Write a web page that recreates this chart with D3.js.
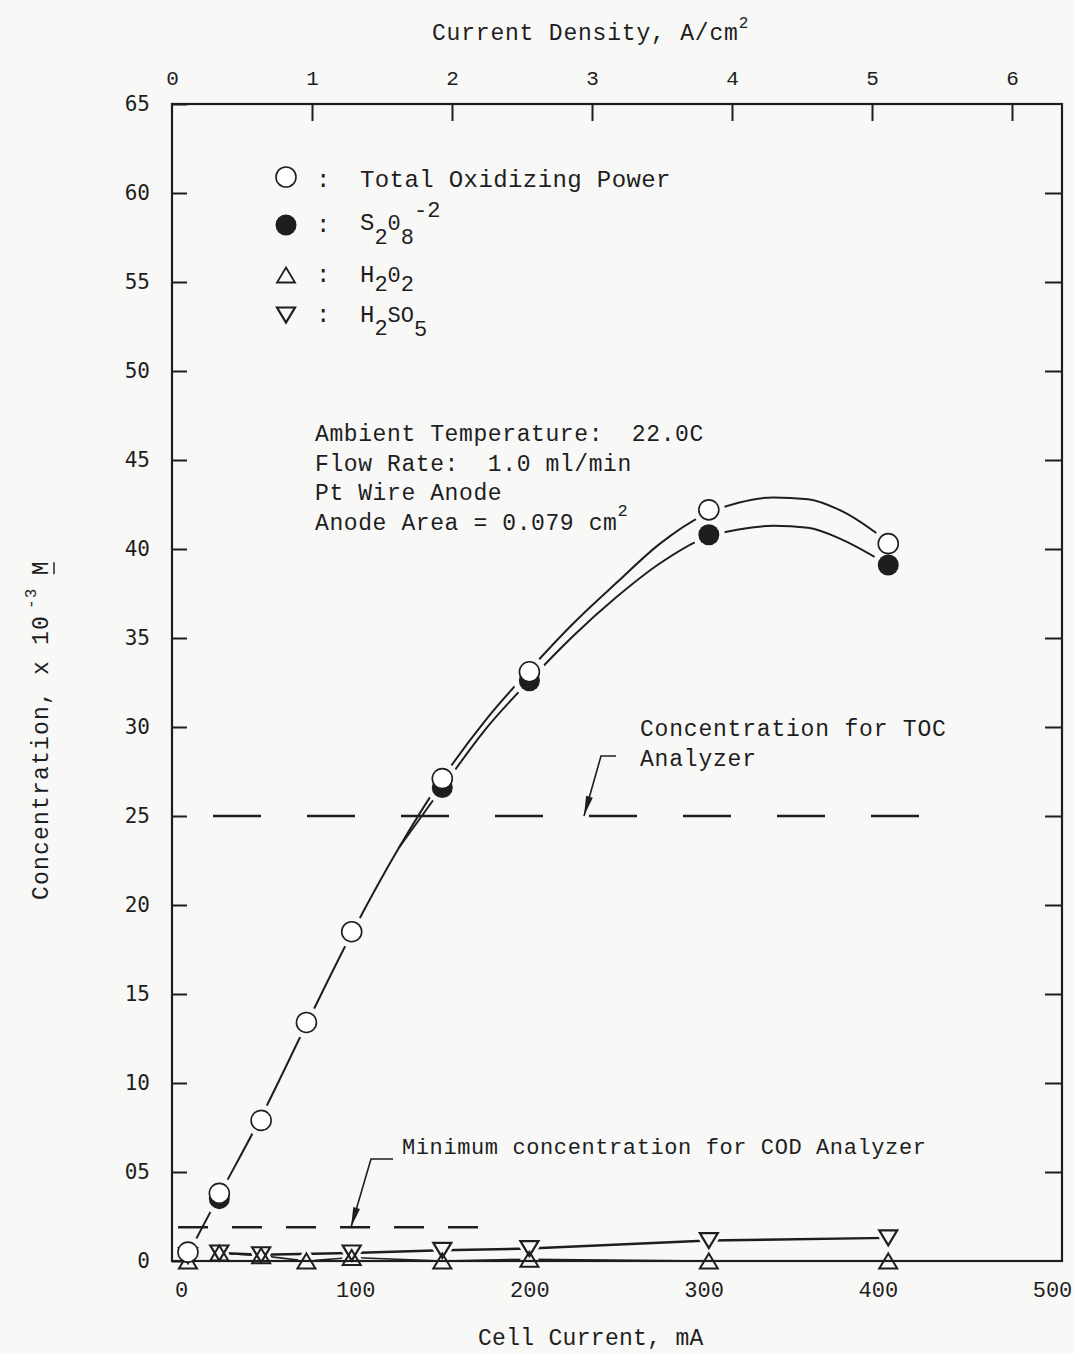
<!DOCTYPE html>
<html>
<head>
<meta charset="utf-8">
<script src="https://cdn.jsdelivr.net/npm/d3@7"></script>
<style>
  html, body { margin: 0; padding: 0; background: #f8f8f6; }
  svg { display: block; }
  text { font-family: "Liberation Mono", "DejaVu Sans Mono", monospace; fill: #1e1e1e; white-space: pre; }
</style>
</head>
<body>
<svg id="chart" width="1074" height="1354"></svg>
<script>
// ---- measured points (cell current in mA, concentration x 10^-3 M) ----
const currents       = [4, 22, 46, 72, 98, 150, 200, 303, 406];
const totalOxidizing = [0.5, 3.8, 7.9, 13.4, 18.5, 27.1, 33.1, 42.2, 40.3];
const persulfateCurrents = [22, 150, 200, 303, 406];
const persulfate         = [3.5, 26.6, 32.6, 40.8, 39.1];
const peroxide  = [0.0, 0.45, 0.3, 0.0, 0.2, 0.0, 0.1, 0.0, 0.0];
const caroAcid  = [0.3, 0.45, 0.35, null, 0.45, 0.6, 0.7, 1.15, 1.3];

// ---- hand-fitted curves drawn through the measured points ----
const totalFitCurrents = [2, 22, 46, 72, 98, 125, 150, 175, 200, 225, 250, 275, 300, 320, 340, 360, 380, 406];
const totalFit         = [0, 3.7, 8.1, 13.3, 18.4, 23.2, 27.1, 30.4, 33.2, 35.8, 38.1, 40.3, 41.9, 42.6, 42.9, 42.8, 42.1, 40.4];
const persulfateFitCurrents = [125, 150, 175, 200, 225, 250, 275, 300, 320, 340, 360, 380, 406];
const persulfateFit         = [23.2, 26.6, 29.9, 32.6, 35.1, 37.3, 39.2, 40.6, 41.1, 41.3, 41.2, 40.5, 39.1];

// ---- reference levels ----
const tocLevel = 25;
const tocSpan = [0, 440];
const codLevel = 1.9;
const codSpan = [-4, 170];

// ---- axis ticks ----
const concentrationTicks = [0, 5, 10, 15, 20, 25, 30, 35, 40, 45, 50, 55, 60, 65];
const currentTicks = [0, 100, 200, 300, 400, 500];
const densityTicks = [0, 1, 2, 3, 4, 5, 6];

const svg = d3.select("#chart");
const frame = { left: 172, right: 1062, top: 104, bottom: 1261 };

const x = d3.scaleLinear().domain([0, 500]).range([181, 1052]);
const y = d3.scaleLinear().domain([0, 65]).range([1261, 104]);
const xTop = d3.scaleLinear().domain([0, 6]).range([172, 1012]);

const ink = "#1e1e1e";

// reference dashed lines
svg.append("line")
  .attr("x1", x(tocSpan[0])).attr("x2", x(tocSpan[1]) + 3)
  .attr("y1", y(tocLevel)).attr("y2", y(tocLevel))
  .attr("stroke", ink).attr("stroke-width", 2.4)
  .attr("stroke-dasharray", "48,46").attr("stroke-dashoffset", -32);
svg.append("line")
  .attr("x1", x(codSpan[0])).attr("x2", x(codSpan[1]) + 3)
  .attr("y1", y(codLevel)).attr("y2", y(codLevel))
  .attr("stroke", ink).attr("stroke-width", 2.4)
  .attr("stroke-dasharray", "30,24").attr("stroke-dashoffset", -4);

// fitted curves
const curveLine = d3.line()
  .x(d => x(d[0])).y(d => y(d[1]))
  .curve(d3.curveMonotoneX);
svg.append("path")
  .datum(d3.zip(totalFitCurrents, totalFit))
  .attr("d", curveLine).attr("fill", "none")
  .attr("stroke", ink).attr("stroke-width", 2);
svg.append("path")
  .datum(d3.zip(persulfateFitCurrents, persulfateFit))
  .attr("d", curveLine).attr("fill", "none")
  .attr("stroke", ink).attr("stroke-width", 2);

// low-level species joined by straight segments
const straight = d3.line().x(d => x(d[0])).y(d => y(d[1]));
svg.append("path")
  .datum(d3.zip(currents, caroAcid).filter(d => d[1] !== null && d[0] > 10))
  .attr("d", straight).attr("fill", "none")
  .attr("stroke", ink).attr("stroke-width", 2.4);
svg.append("path")
  .datum(d3.zip(currents, peroxide).filter(d => d[0] > 10))
  .attr("d", straight).attr("fill", "none")
  .attr("stroke", ink).attr("stroke-width", 1.6);

// marker shapes
const triW = 18, triH = 15;
function triangleUp(cx, cy) {
  return `M${cx},${cy - triH / 2}L${cx + triW / 2},${cy + triH / 2}L${cx - triW / 2},${cy + triH / 2}Z`;
}
function triangleDown(cx, cy) {
  return `M${cx - triW / 2},${cy - triH / 2}L${cx + triW / 2},${cy - triH / 2}L${cx},${cy + triH / 2}Z`;
}
const peroxidePts = d3.zip(currents, peroxide).filter(d => d[1] !== null);
const caroPts = d3.zip(currents, caroAcid).filter(d => d[1] !== null);
const totalPts = d3.zip(currents, totalOxidizing);
const persulfatePts = d3.zip(persulfateCurrents, persulfate);

// white clearance around markers so the curves break at each point
const halo = svg.append("g").attr("fill", "#f8f8f6").attr("stroke", "#f8f8f6");
halo.selectAll(".hc").data(totalPts.concat(persulfatePts)).join("circle")
  .attr("cx", d => x(d[0])).attr("cy", d => y(d[1])).attr("r", 16).attr("stroke", "none");
halo.selectAll(".hu").data(peroxidePts).join("path")
  .attr("d", d => triangleUp(x(d[0]), y(d[1]))).attr("stroke-width", 8);
halo.selectAll(".hd").data(caroPts).join("path")
  .attr("d", d => triangleDown(x(d[0]), y(d[1]))).attr("stroke-width", 8);

// frame
svg.append("rect")
  .attr("x", frame.left).attr("y", frame.top)
  .attr("width", frame.right - frame.left).attr("height", frame.bottom - frame.top)
  .attr("fill", "none").attr("stroke", ink).attr("stroke-width", 2.2);

// left axis
const leftAxis = d3.axisLeft(y).tickValues(concentrationTicks)
  .tickSizeInner(-15).tickSizeOuter(0).tickPadding(22)
  .tickFormat(d => d === 0 ? "0" : d === 5 ? "05" : String(d));
const gl = svg.append("g").attr("transform", `translate(${frame.left},0)`).call(leftAxis);
gl.select(".domain").remove();
gl.selectAll("line").attr("stroke", ink).attr("stroke-width", 2);
gl.selectAll("text").style("font-family", "'DejaVu Sans Mono', monospace")
  .style("font-size", "21px").attr("fill", "#555");

// right axis (ticks only)
const rightAxis = d3.axisRight(y).tickValues(concentrationTicks.filter(v => v > 0 && v < 65))
  .tickSizeInner(-17).tickSizeOuter(0).tickFormat("");
const gr = svg.append("g").attr("transform", `translate(${frame.right},0)`).call(rightAxis);
gr.select(".domain").remove();
gr.selectAll("line").attr("stroke", ink).attr("stroke-width", 2);

// bottom axis (labels only)
const bottomAxis = d3.axisBottom(x).tickValues(currentTicks)
  .tickSize(0).tickPadding(20).tickFormat(d3.format("d"));
const gb = svg.append("g").attr("transform", `translate(0,${frame.bottom})`).call(bottomAxis);
gb.select(".domain").remove();
gb.selectAll("text").style("font-size", "22px").attr("fill", "#333");

// top axis: current density
const topAxis = d3.axisTop(xTop).tickValues(densityTicks)
  .tickSizeInner(-17).tickSizeOuter(0).tickPadding(19).tickFormat(d3.format("d"));
const gt = svg.append("g").attr("transform", `translate(0,${frame.top})`).call(topAxis);
gt.select(".domain").remove();
gt.selectAll("line").attr("stroke", ink).attr("stroke-width", 2);
gt.selectAll("line").filter(d => d === 0).remove();
gt.selectAll("text").style("font-size", "21px").attr("fill", "#333");

// axis titles
const topTitle = svg.append("text").attr("x", 432).attr("y", 40)
  .style("font-size", "23px").style("letter-spacing", "0.8px");
topTitle.append("tspan").text("Current Density, A/cm");
topTitle.append("tspan").attr("dy", -12).style("font-size", "16px").text("2");

svg.append("text").attr("x", 478).attr("y", 1345)
  .style("font-size", "23px").style("letter-spacing", "0.3px")
  .text("Cell Current, mA");

const yTitleG = svg.append("g").attr("transform", "translate(48,900) rotate(-90)");
const yTitle = yTitleG.append("text")
  .style("font-size", "23px").style("letter-spacing", "1.2px").attr("fill", "#333");
yTitle.append("tspan").text("Concentration, x 10");
yTitle.append("tspan").attr("dx", 6).attr("dy", -12).style("font-size", "16px").text("-3");
yTitle.append("tspan").attr("dx", 12).attr("dy", 12).text("M");
{
  const node = yTitle.node();
  const last = node.getNumberOfChars() - 1;
  const s = node.getStartPositionOfChar(last).x;
  const e = node.getEndPositionOfChar(last).x;
  yTitleG.append("line").attr("x1", s + 1).attr("x2", e - 2).attr("y1", 6).attr("y2", 6)
    .attr("stroke", "#333").attr("stroke-width", 1.6);
}

// legend
const lgX = 286;
const legendRows = [177, 225, 275, 315];
svg.append("circle").attr("cx", lgX).attr("cy", legendRows[0]).attr("r", 10)
  .attr("fill", "#fff").attr("stroke", ink).attr("stroke-width", 1.6);
svg.append("circle").attr("cx", lgX).attr("cy", legendRows[1]).attr("r", 10.5).attr("fill", ink);
svg.append("path").attr("d", triangleUp(lgX, legendRows[2]))
  .attr("fill", "none").attr("stroke", ink).attr("stroke-width", 1.8);
svg.append("path").attr("d", triangleDown(lgX, legendRows[3]))
  .attr("fill", "none").attr("stroke", ink).attr("stroke-width", 2.2);
[187, 232, 282, 322].forEach(b => {
  svg.append("text").attr("x", 316).attr("y", b).style("font-size", "24px").text(":");
});
svg.append("text").attr("x", 360).attr("y", 187)
  .style("font-size", "24px").style("letter-spacing", "0.4px").text("Total Oxidizing Power");
function chem(xPos, base, parts) {
  const t = svg.append("text").attr("x", xPos).attr("y", base).style("font-size", "24px");
  parts.forEach(p => {
    const s = t.append("tspan").text(p.t);
    if (p.sub) s.attr("dy", p.sub).style("font-size", "22px");
  });
  return t;
}
chem(360, 230, [{ t: "S" }, { t: "2", sub: 14 }, { t: "0", sub: -14 }, { t: "8", sub: 14 }, { t: "-2", sub: -27 }]);
chem(360, 282, [{ t: "H" }, { t: "2", sub: 9 }, { t: "0", sub: -9 }, { t: "2", sub: 9 }]);
chem(360, 322, [{ t: "H" }, { t: "2", sub: 13 }, { t: "SO", sub: -13 }, { t: "5", sub: 14 }]);

// experimental conditions
const conditions = ["Ambient Temperature:  22.0C", "Flow Rate:  1.0 ml/min", "Pt Wire Anode", "Anode Area = 0.079 cm"];
conditions.forEach((s, i) => {
  const t = svg.append("text").attr("x", 315).attr("y", 441 + i * 29.5)
    .style("font-size", "23px").style("letter-spacing", "0.6px").text(s);
  if (i === 3) t.append("tspan").attr("dy", -14).style("font-size", "17px").text("2");
});

// annotations with leader arrows
function leader(pts, tip) {
  svg.append("path").attr("d", d3.line()(pts)).attr("fill", "none")
    .attr("stroke", ink).attr("stroke-width", 1.6);
  const [tx, ty] = tip;
  const [px, py] = pts[pts.length - 2];
  const len = Math.hypot(tx - px, ty - py);
  const ux = (tx - px) / len, uy = (ty - py) / len;
  const bx = tx - ux * 20, by = ty - uy * 20;
  svg.append("path")
    .attr("d", `M${tx},${ty}L${bx - uy * 3.5},${by + ux * 3.5}L${bx + uy * 3.5},${by - ux * 3.5}Z`)
    .attr("fill", ink);
}
svg.append("text").attr("x", 640).attr("y", 736)
  .style("font-size", "23px").style("letter-spacing", "0.8px").text("Concentration for TOC");
svg.append("text").attr("x", 640).attr("y", 766)
  .style("font-size", "23px").style("letter-spacing", "0.8px").text("Analyzer");
leader([[616, 756], [601, 756], [584, y(tocLevel)]], [584, y(tocLevel)]);

svg.append("text").attr("x", 402).attr("y", 1154)
  .style("font-size", "22px").style("letter-spacing", "0.6px").text("Minimum concentration for COD Analyzer");
leader([[393, 1159], [371, 1159], [351, y(codLevel)]], [351, y(codLevel)]);

// markers
const marks = svg.append("g");
marks.selectAll(".up").data(peroxidePts).join("path")
  .attr("d", d => triangleUp(x(d[0]), y(d[1])))
  .attr("fill", "none").attr("stroke", ink).attr("stroke-width", 2);
marks.selectAll(".down").data(caroPts).join("path")
  .attr("d", d => triangleDown(x(d[0]), y(d[1])))
  .attr("fill", "none").attr("stroke", ink).attr("stroke-width", 2.2);
marks.selectAll(".filled").data(persulfatePts).join("circle")
  .attr("cx", d => x(d[0])).attr("cy", d => y(d[1])).attr("r", 10.5).attr("fill", ink);
marks.selectAll(".open").data(totalPts).join("circle")
  .attr("cx", d => x(d[0])).attr("cy", d => y(d[1])).attr("r", 10)
  .attr("fill", "#fff").attr("stroke", ink).attr("stroke-width", 1.6);
</script>
</body>
</html>
